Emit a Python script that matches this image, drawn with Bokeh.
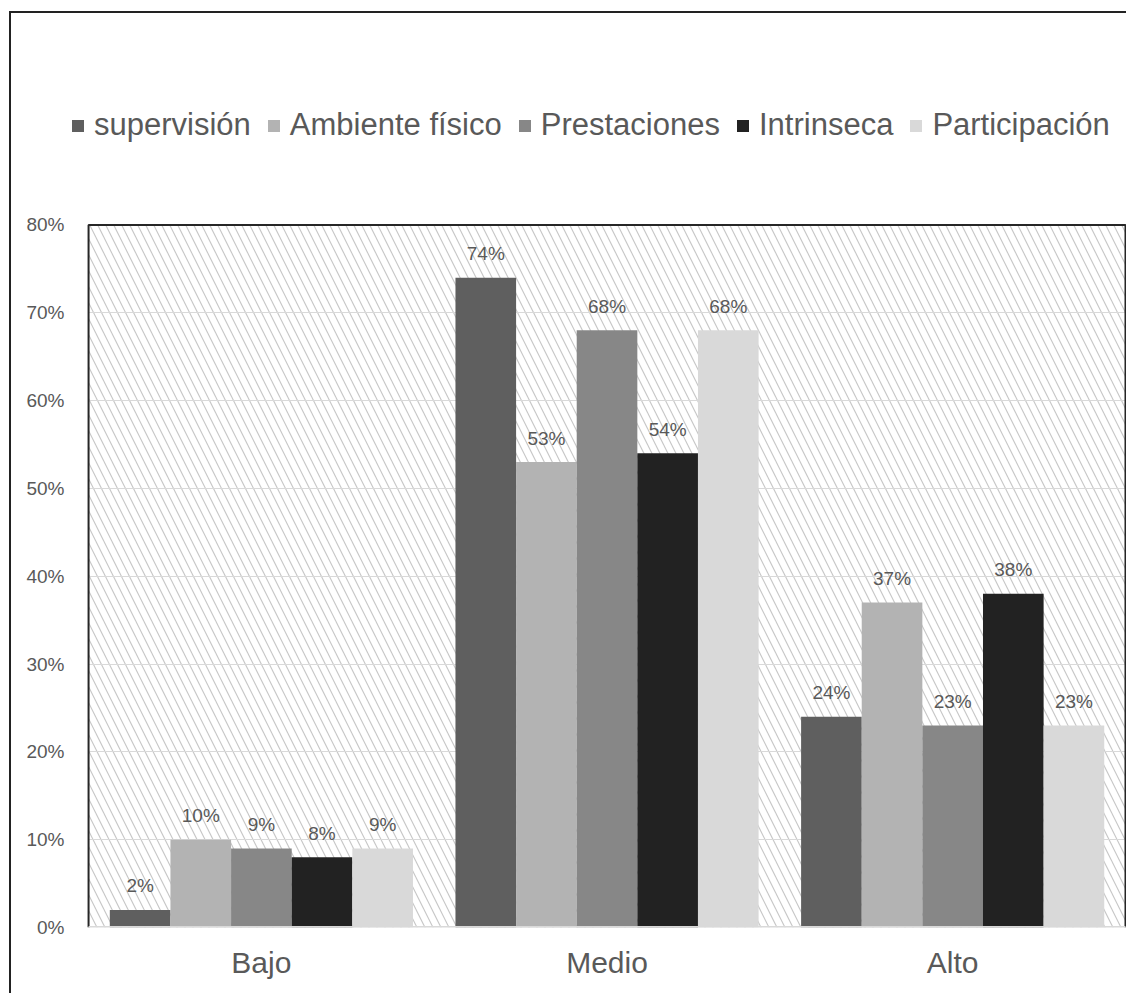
from bokeh.plotting import figure
from bokeh.models import (Range1d, BoxAnnotation, Legend, LegendItem,
                          FixedTicker, NumeralTickFormatter, ColumnDataSource)
from bokeh.core.properties import value
from bokeh.embed import file_html
from bokeh.resources import INLINE

# Satisfaction levels (percent of respondents) per factor
groups = ["Bajo", "Medio", "Alto"]
series = ["supervisión", "Ambiente físico", "Prestaciones", "Intrinseca", "Participación"]
supervision = [2, 74, 24]
ambiente_fisico = [10, 53, 37]
prestaciones = [9, 68, 23]
intrinseca = [8, 54, 38]
participacion = [9, 68, 23]
y_ticks = [0, 10, 20, 30, 40, 50, 60, 70, 80]

values = [supervision, ambiente_fisico, prestaciones, intrinseca, participacion]
colors = ["#5f5f5f", "#b3b3b3", "#878787", "#222222", "#d9d9d9"]

FONT = "Liberation Sans"
TEXT = "#595959"
BAR_W = 0.1754
centers = [i + 0.5 for i in range(len(groups))]
Y_TOP = 0.8

# the canvas above the plot area holds the legend, so the y range runs past 80 %
p = figure(
    x_range=Range1d(-0.0812, 3.0087),
    y_range=Range1d(0, 1.0408),
    width=1117, height=982,
    output_backend="svg", toolbar_location=None,
    min_border_left=49, min_border_right=0, min_border_top=0, min_border_bottom=68,
)
p.styles = {"margin-left": "9px", "margin-top": "11px",
            "border-left": "2px solid #222222", "border-top": "2px solid #222222"}
p.outline_line_color = None
p.background_fill_color = "white"

# hatched plot area
p.add_layout(BoxAnnotation(level="image", left=0, right=3, bottom=0, top=Y_TOP,
                           fill_alpha=0, line_alpha=0,
                           hatch_pattern="\\", hatch_color="#c8c8c8",
                           hatch_scale=16, hatch_weight=1.2))
# keep gridlines inside the plot area only
p.add_layout(BoxAnnotation(level="underlay", right=0, fill_color="white", fill_alpha=1, line_alpha=0))
p.add_layout(BoxAnnotation(level="underlay", left=3, fill_color="white", fill_alpha=1, line_alpha=0))
p.add_layout(BoxAnnotation(level="underlay", bottom=Y_TOP + 0.001, fill_color="white",
                           fill_alpha=1, line_alpha=0))

items = []
n = len(series)
for i, (name, vals, col) in enumerate(zip(series, values, colors)):
    off = (i - (n - 1) / 2) * BAR_W
    src = ColumnDataSource(dict(
        x=[c + off for c in centers],
        y=[v / 100 for v in vals],
        lbl=[f"{v}%" for v in vals],
    ))
    r = p.vbar(x="x", top="y", width=BAR_W, bottom=0,
               source=src, fill_color=col, line_color=None)
    p.text(x="x", y="y", text="lbl", source=src,
           text_align="center", text_baseline="alphabetic", y_offset=-24,
           text_font=value(FONT), text_font_size="19px", text_color=TEXT)
    items.append(LegendItem(label=name, renderers=[r]))

# plot-area frame: dark left/top/right edges, light base line
p.line(x=[0, 0, 3, 3], y=[0, Y_TOP, Y_TOP, 0], line_color="#262626", line_width=2)
p.line(x=[0, 3], y=[0, 0], line_color="#d9d9d9", line_width=3)

legend = Legend(items=items, orientation="horizontal", location=(10, 784),
                label_text_font=FONT, label_text_font_size="31px", label_text_color=TEXT,
                glyph_width=15, glyph_height=15, label_standoff=9, spacing=15,
                padding=0, margin=0, border_line_alpha=0, background_fill_alpha=0)
p.add_layout(legend, "center")

p.xgrid.grid_line_color = None
p.ygrid.grid_line_color = "#d9d9d9"
p.ygrid.grid_line_width = 1
p.yaxis.ticker = FixedTicker(ticks=[t / 100 for t in y_ticks])
p.yaxis.formatter = NumeralTickFormatter(format="0%")
p.yaxis.axis_line_color = None
p.yaxis.major_tick_line_color = None
p.yaxis.minor_tick_line_color = None
p.yaxis.major_label_standoff = -10
p.yaxis.major_label_text_font = FONT
p.yaxis.major_label_text_font_size = "19px"
p.yaxis.major_label_text_color = TEXT

p.xaxis.ticker = FixedTicker(ticks=centers)
p.xaxis.major_label_overrides = {c: g for c, g in zip(centers, groups)}
p.xaxis.axis_line_color = None
p.xaxis.major_tick_line_color = None
p.xaxis.minor_tick_line_color = None
p.xaxis.major_label_standoff = 12
p.xaxis.major_label_text_font = FONT
p.xaxis.major_label_text_font_size = "30px"
p.xaxis.major_label_text_color = TEXT

open("out.html", "w").write(file_html(p, INLINE))
